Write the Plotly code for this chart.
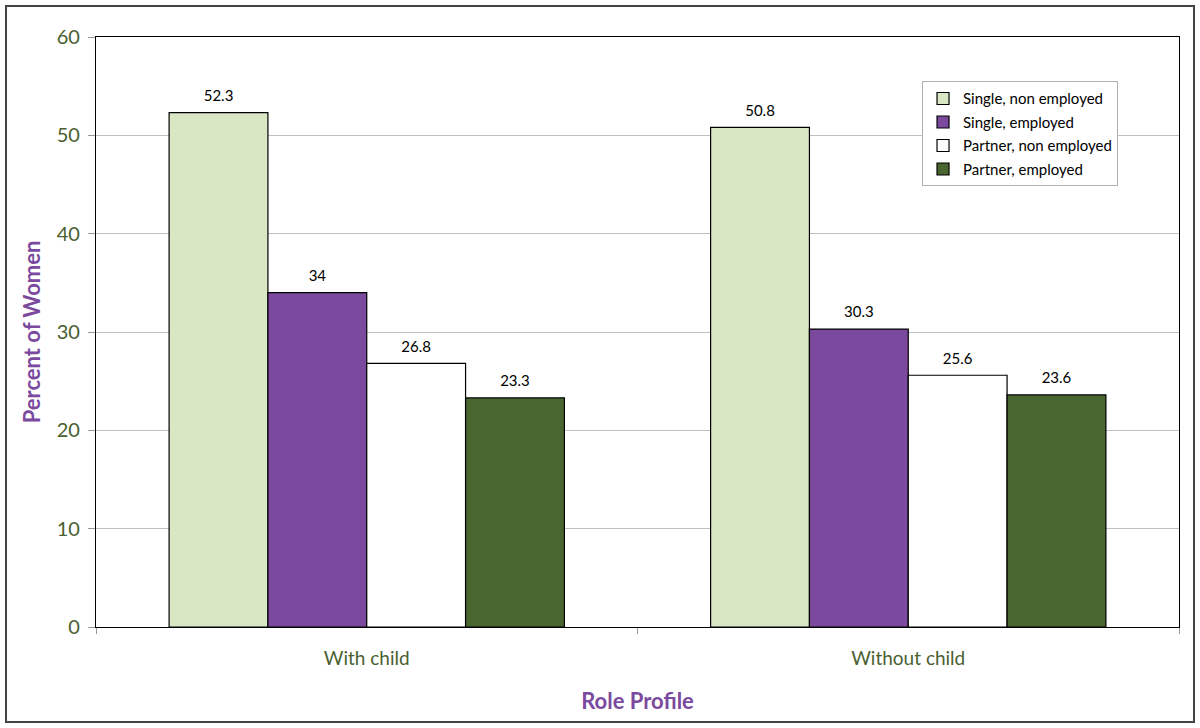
import plotly.graph_objects as go

categories = ["With child", "Without child"]
series_names = ["Single, non employed", "Single, employed", "Partner, non employed", "Partner, employed"]
single_non_employed = [52.3, 50.8]
single_employed = [34, 30.3]
partner_non_employed = [26.8, 25.6]
partner_employed = [23.3, 23.6]
colors = ["#d9e7c4", "#7b4a9e", "#ffffff", "#4a6630"]

FONT = "Gill Sans, Gill Sans MT, Lato, sans-serif"
GAP = 0.27

fig = go.Figure()
all_vals = [single_non_employed, single_employed, partner_non_employed, partner_employed]
for i, (name, vals, col) in enumerate(zip(series_names, all_vals, colors)):
    fig.add_trace(go.Bar(
        x=categories, y=vals, name=name, offsetgroup=str(i), legendgroup=str(i),
        marker=dict(color=col, line=dict(color="black", width=1.2)),
    ))
for i, vals in enumerate(all_vals):
    fig.add_trace(go.Scatter(
        x=categories, y=vals, mode="markers+text", offsetgroup=str(i), showlegend=False,
        marker=dict(size=11, color="rgba(0,0,0,0)"),
        text=[f"{v:g}" for v in vals], textposition="top center",
        textfont=dict(family=FONT, size=15, color="black"),
        cliponaxis=False, hoverinfo="skip",
    ))

fig.update_layout(
    width=1200, height=728,
    barmode="group", bargap=GAP, bargroupgap=0,
    scattermode="group", scattergap=GAP,
    paper_bgcolor="white", plot_bgcolor="white",
    margin=dict(l=96, r=21, t=37, b=101),
    font=dict(family=FONT),
    legend=dict(
        x=0.9437, y=0.925, xanchor="right", yanchor="top",
        bgcolor="white", bordercolor="#b0b0b0", borderwidth=1,
        font=dict(family=FONT, size=15, color="black"),
        itemwidth=30, tracegroupgap=1,
    ),
    xaxis=dict(
        showline=True, linecolor="black", linewidth=1.2, mirror=True,
        tickson="boundaries", ticks="outside", ticklen=6, tickcolor="#999999",
        showgrid=False,
        tickfont=dict(family=FONT, size=19, color="#4a6030"),
        ticklabelstandoff=14,
        title=dict(text="<b>Role Profile</b>", font=dict(family=FONT, size=22, color="#7b4a9e"), standoff=25),
    ),
    yaxis=dict(
        range=[0, 60], dtick=10,
        showline=True, linecolor="black", linewidth=1.2, mirror=True,
        ticks="outside", ticklen=7, tickcolor="#999999",
        showgrid=True, gridcolor="#c0c0c0", gridwidth=1,
        zeroline=False,
        tickfont=dict(family=FONT, size=20, color="#4a6030"),
        ticklabelstandoff=4,
        title=dict(text="<b>Percent of Women</b>", font=dict(family=FONT, size=22, color="#7b4a9e"), standoff=9),
    ),
    shapes=[dict(type="rect", xref="paper", yref="paper",
                 x0=-90/1083, x1=1+15/1083, y0=-95/590, y1=1+31/590,
                 line=dict(color="#444444", width=2), fillcolor="rgba(0,0,0,0)", layer="below")],
)

fig.write_html("out.html", config={"displayModeBar": False},
               post_script="document.body.style.margin='0';document.body.style.overflow='hidden';")
